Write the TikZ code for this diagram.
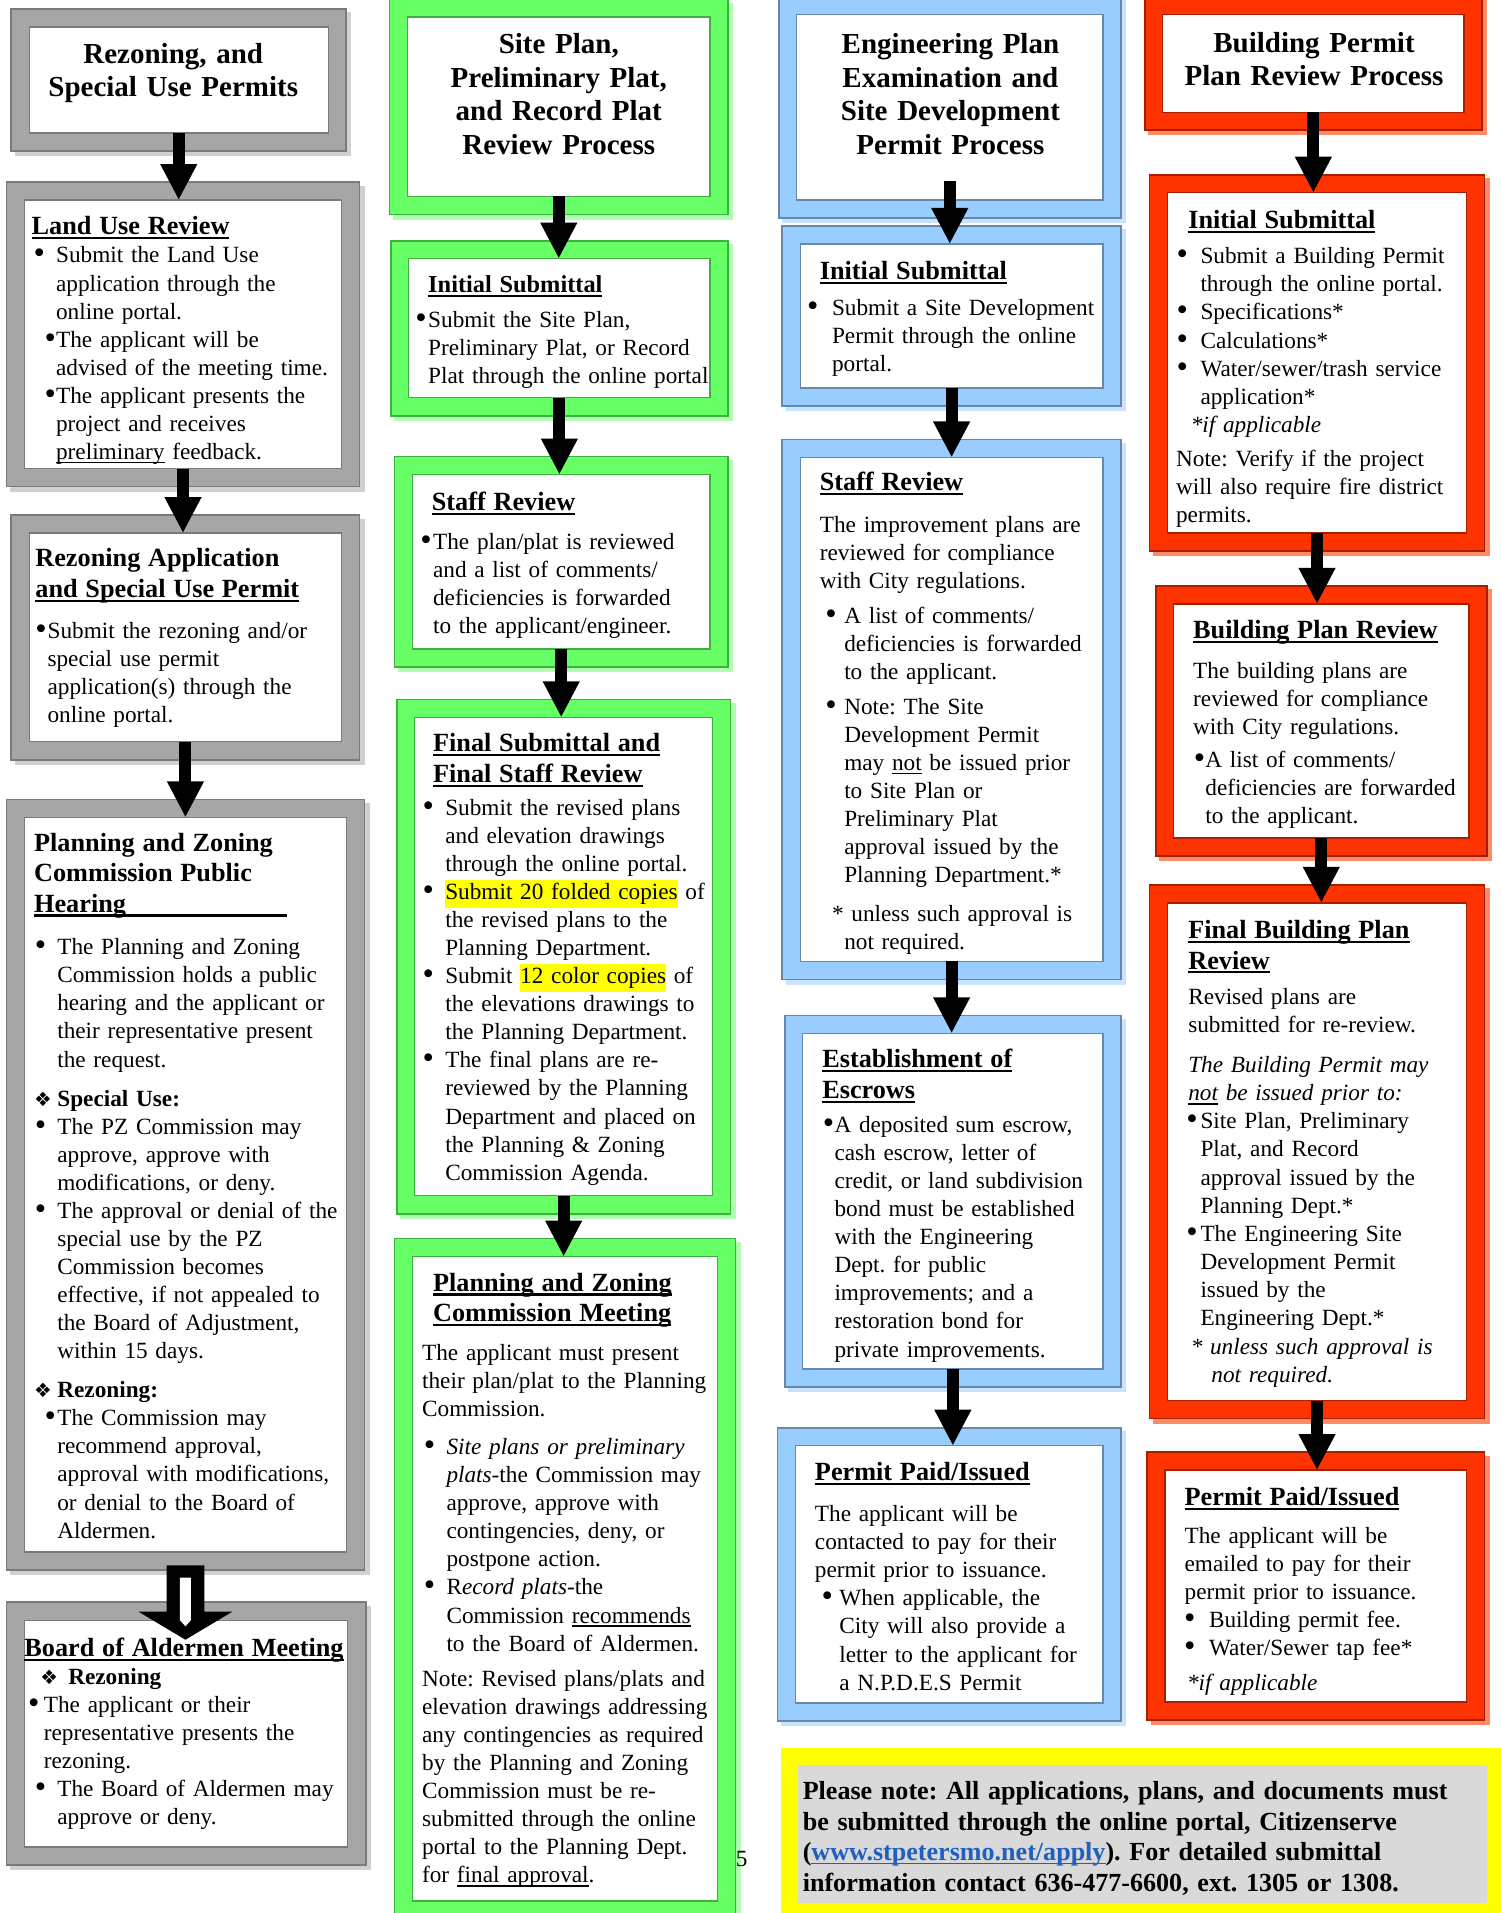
\documentclass[tikz,border=0pt]{standalone}
\usepackage{fontspec}
\usepackage{graphicx}
\setmainfont{Liberation Serif}
\newfontfamily\dingf{DejaVu Sans}
\usetikzlibrary{arrows.meta,fit}

\definecolor{framegray}{HTML}{A6A6A6}
\definecolor{edgegray}{HTML}{7A7A7A}
\definecolor{shadegray}{HTML}{D0D0D0}
\definecolor{framegreen}{HTML}{66FF66}
\definecolor{edgegreen}{HTML}{3FAF3F}
\definecolor{shadegreen}{HTML}{B0FFB0}
\definecolor{frameblue}{HTML}{99CCFF}
\definecolor{edgeblue}{HTML}{6688AA}
\definecolor{shadeblue}{HTML}{C8E2FF}
\definecolor{framered}{HTML}{FF3300}
\definecolor{edgered}{HTML}{A52000}
\definecolor{shadered}{HTML}{FF8A66}
\definecolor{noteyellow}{HTML}{FFFF00}
\definecolor{notegray}{HTML}{D9D9D9}
\definecolor{linkblue}{HTML}{1F5FC0}

% one unit of the picture
\newlength\pu
\setlength\pu{0.025cm}

\newcommand\bodyf{\fontsize{13.55}{16.36}\selectfont\frenchspacing}
\newcommand\headf{\fontsize{15.3}{17.8}\selectfont\bfseries}
\newcommand\headsf{\fontsize{14.2}{16.4}\selectfont\bfseries}
\newcommand\titlef{\fontsize{16.9}{19.56}\selectfont\bfseries}
\newcommand\notef{\fontsize{15.2}{17.8}\selectfont\bfseries\frenchspacing}

% underlines, highlight, bullet
\newcommand\undh[1]{\setbox0\hbox{#1}\rlap{\rule[-2.6pt]{\wd0}{1.2pt}}\box0\relax}
\newcommand\undt[1]{\setbox0\hbox{#1}\rlap{\rule[-2.2pt]{\wd0}{0.8pt}}\box0\relax}
\newcommand\hilite[1]{{\fboxsep=0pt\colorbox{noteyellow}{\strut#1}}}
\newcommand\bigdot{\raisebox{-0.6pt}{\scalebox{1.4}{\textbullet}}}

% paragraphs inside the boxes
\newcommand\boxhead[2][0]{{\headf\hangindent=#1\pu\hangafter=0\noindent\strut#2\par}}
\newcommand\boxheads[1]{{\headsf\noindent\strut#1\par}}
\newcommand\bitem[3]{\hangindent=#1\pu\hangafter=1\noindent\rlap{\hspace*{#2\pu}\bigdot}\hspace*{#1\pu}#3\par}
\newcommand\plainpara[2]{\hangindent=#1\pu\hangafter=0\noindent#2\par}
\newcommand\hangpara[3]{\hangindent=#1\pu\hangafter=1\noindent\hspace*{#2\pu}#3\par}
\newcommand\ditem[3]{\noindent\hspace*{#1\pu}\makebox[#2\pu][l]{{\dingf\fontsize{11.5}{12}\selectfont ❖}}#3\par}

\tikzset{
  panel/.style n args={3}{inner sep=0pt, outer sep=0pt, fill=white, draw=#2, line width=0.8pt,
    preaction={draw=#3, line width=22pt, transform canvas={shift={(2.5pt,-2.5pt)}}},
    preaction={draw=#2, line width=22pt},
    preaction={draw=#1, line width=20pt}},
  graybox/.style={panel={framegray}{edgegray}{shadegray}},
  greenbox/.style={panel={framegreen}{edgegreen}{shadegreen}},
  bluebox/.style={panel={frameblue}{edgeblue}{shadeblue}},
  redbox/.style={panel={framered}{edgered}{shadered}},
  notebox/.style={inner sep=0pt, outer sep=0pt, fill=notegray,
    preaction={draw=noteyellow, line width=20pt}},
  flow/.style={line width=7pt, -{Triangle[width=20pt,length=21pt]}},
  txt/.style={anchor=north west, inner sep=0pt, outer sep=0pt, text width=9.5cm, align=left, font=\bodyf},
  ttl/.style={anchor=north, inner sep=0pt, outer sep=0pt, text width=7cm, align=center, font=\titlef}
}

\begin{document}
\begin{tikzpicture}[x=0.025cm, y=-0.025cm]
\useasboundingbox (0,0) rectangle (1230,1568);
\fill[white] (0,0) rectangle (1230,1568);

% rezoning column
\node[graybox, fit={(24,22) (269,109)}] (rz1) {};
\node[graybox, fit={(20,164) (280,384)}] (lu) {};
\node[graybox, fit={(24,437) (280,608)}] (rza) {};
\node[graybox, fit={(20,670) (284,1272)}] (pzh) {};
\node[graybox, fit={(20,1328) (285,1514)}] (bam) {};

% site plan column
\node[greenbox, fit={(334,14) (582,161)}] (sp) {};
\node[greenbox, fit={(335,212) (582,326)}] (is2) {};
\node[greenbox, fit={(338,389) (582,532)}] (sr2) {};
\node[greenbox, fit={(340,588) (584,980)}] (fs) {};
\node[greenbox, fit={(338,1030) (588,1558)}] (pzm) {};

% engineering column
\node[bluebox, fit={(653,12) (904,164)}] (ep) {};
\node[bluebox, fit={(656,200) (904,318)}] (is3) {};
\node[bluebox, fit={(656,375) (904,788)}] (sr3) {};
\node[bluebox, fit={(658,847) (904,1122)}] (esc) {};
\node[bluebox, fit={(652,1185) (904,1396)}] (pp3) {};

% building column
\node[redbox, fit={(953,12) (1200,92)}] (bp) {};
\node[redbox, fit={(957,158) (1202,437)}] (is4) {};
\node[redbox, fit={(962,495) (1204,687)}] (bpr) {};
\node[redbox, fit={(957,740) (1202,1148)}] (fbp) {};
\node[redbox, fit={(955,1205) (1202,1395)}] (pp4) {};

\node[notebox, fit={(654,1447) (1219,1560)}] (note) {};

% titles
\node[ttl] (rz1t) at (142,32.6) {\strut Rezoning, and\\Special Use Permits};
\node[ttl] (spt) at (458,24.6) {\strut Site Plan,\\Preliminary Plat,\\and Record Plat\\Review Process};
\node[ttl] (ept) at (779,24.6) {\strut Engineering Plan\\Examination and\\Site Development\\Permit Process};
\node[ttl] (bpt) at (1077,23.6) {\strut Building Permit\\Plan Review Process};

% rezoning texts
\node[txt] (lut) at (26,175) {%
\boxhead{\undh{Land Use Review}}
\bitem{20}{1.5}{Submit the Land Use\newline application through the\newline online portal.}
\bitem{20}{10.5}{The applicant will be\newline advised of the meeting time.}
\bitem{20}{10.5}{The applicant presents the\newline project and receives\newline \undt{preliminary} feedback.}};
\node[txt] (rzat) at (29,447) {%
\boxhead{Rezoning Application\newline\undh{and Special Use Permit}}
\vspace{11\pu}
\bitem{10}{0}{Submit the rezoning and/or\newline special use permit\newline application(s) through the\newline online portal.}};
\node[txt] (pzht) at (28,680) {%
\boxhead{Planning and Zoning\newline Commission Public\newline\undh{\makebox[207\pu][l]{Hearing}}}
\vspace{12\pu}
\bitem{19}{0.5}{The Planning and Zoning\newline Commission holds a public\newline hearing and the applicant or\newline their representative present\newline the request.}
\vspace{9\pu}
\ditem{0}{19}{\textbf{Special Use:}}
\bitem{19}{0.5}{The PZ Commission may\newline approve, approve with\newline modifications, or deny.}
\bitem{19}{0.5}{The approval or denial of the\newline special use by the PZ\newline Commission becomes\newline effective, if not appealed to\newline the Board of Adjustment,\newline within 15 days.}
\vspace{9\pu}
\ditem{0}{19}{\textbf{Rezoning:}}
\bitem{19}{8.5}{The Commission may\newline recommend approval,\newline approval with modifications,\newline or denial to the Board of\newline Aldermen.}};
\node[txt] (bamt) at (20,1340) {%
\boxhead{\undh{Board of Aldermen Meeting}}
\ditem{13}{23}{\textbf{Rezoning}}
\bitem{16}{3}{The applicant or their\newline representative presents the\newline rezoning.}
\bitem{27}{8.5}{The Board of Aldermen may\newline approve or deny.}};

% site plan texts
\node[txt] (is2t) at (351,223.5) {%
\boxheads{\undh{Initial Submittal}}
\vspace{6\pu}
\bitem{0}{-10.5}{Submit the Site Plan,\newline Preliminary Plat, or Record\newline Plat through the online portal}};
\node[txt] (sr2t) at (354,400.7) {%
\boxhead{\undh{Staff Review}}
\vspace{9\pu}
\bitem{1}{-9.5}{The plan/plat is reviewed\newline and a list of comments/\newline deficiencies is forwarded\newline to the applicant/engineer.}};
\node[txt] (fst) at (355,598.7) {%
\boxhead{\undh{Final Submittal and}\newline\undh{Final Staff Review}}
\vspace{4\pu}
\bitem{10}{-8.5}{Submit the revised plans\newline and elevation drawings\newline through the online portal.}
\bitem{10}{-8.5}{\hilite{Submit 20 folded copies} of\newline the revised plans to the\newline Planning Department.}
\bitem{10}{-8.5}{Submit \hilite{12 color copies} of\newline the elevations drawings to\newline the Planning Department.}
\bitem{10}{-8.5}{The final plans are re-\newline reviewed by the Planning\newline Department and placed on\newline the Planning \& Zoning\newline Commission Agenda.}};
\node[txt] (pzmt) at (346,1040.7) {%
\boxhead[9]{\undh{Planning and Zoning}\newline\undh{Commission Meeting}}
\vspace{9\pu}
\plainpara{0}{The applicant must present\newline their plan/plat to the Planning\newline Commission.}
\vspace{8\pu}
\bitem{20}{1.5}{\textit{Site plans or preliminary\newline plats}-the Commission may\newline approve, approve with\newline contingencies, deny, or\newline postpone action.}
\bitem{20}{1.5}{R\textit{ecord plats}-the\newline Commission \undt{recommends}\newline to the Board of Aldermen.}
\vspace{6\pu}
\plainpara{0}{Note: Revised plans/plats and\newline elevation drawings addressing\newline any contingencies as required\newline by the Planning and Zoning\newline Commission must be re-\newline submitted through the online\newline portal to the Planning Dept.\newline for \undt{final approval}.}};

% engineering texts
\node[txt] (is3t) at (672,211.7) {%
\boxhead{\undh{Initial Submittal}}
\vspace{6\pu}
\bitem{10}{-10.5}{Submit a Site Development\newline Permit through the online\newline portal.}};
\node[txt] (sr3t) at (672,384.7) {%
\boxhead{\undh{Staff Review}}
\vspace{11\pu}
\plainpara{0}{The improvement plans are\newline reviewed for compliance\newline with City regulations.}
\vspace{6\pu}
\bitem{20}{4.5}{A list of comments/\newline deficiencies is forwarded\newline to the applicant.}
\vspace{5\pu}
\bitem{20}{4.5}{Note: The Site\newline Development Permit\newline may \undt{not} be issued prior\newline to Site Plan or\newline Preliminary Plat\newline approval issued by the\newline Planning Department.*}
\vspace{9\pu}
\hangpara{20}{10}{* unless such approval is\newline not required.}};
\node[txt] (esct) at (674,857.7) {%
\boxhead{\undh{Establishment of}\newline\undh{Escrows}}
\vspace{5\pu}
\bitem{10}{0.5}{A deposited sum escrow,\newline cash escrow, letter of\newline credit, or land subdivision\newline bond must be established\newline with the Engineering\newline Dept. for public\newline improvements; and a\newline restoration bond for\newline private improvements.}};
\node[txt] (pp3t) at (668,1195.7) {%
\boxhead{\undh{Permit Paid/Issued}}
\vspace{11\pu}
\plainpara{0}{The applicant will be\newline contacted to pay for their\newline permit prior to issuance.}
\bitem{20}{5.5}{When applicable, the\newline City will also provide a\newline letter to the applicant for\newline a N.P.D.E.S Permit}};

% building texts
\node[txt] (is4t) at (964,169.7) {%
\boxhead[10]{\undh{Initial Submittal}}
\vspace{6\pu}
\bitem{20}{0.5}{Submit a Building Permit\newline through the online portal.}
\bitem{20}{0.5}{Specifications*}
\bitem{20}{0.5}{Calculations*}
\bitem{20}{0.5}{Water/sewer/trash service\newline application*}
\plainpara{12}{\textit{*if applicable}}
\vspace{5\pu}
\plainpara{0}{Note: Verify if the project\newline will also require fire district\newline permits.}};
\node[txt] (bprt) at (978,505.7) {%
\boxhead{\undh{Building Plan Review}}
\vspace{10\pu}
\plainpara{0}{The building plans are\newline reviewed for compliance\newline with City regulations.}
\vspace{4\pu}
\bitem{10}{0.5}{A list of comments/\newline deficiencies are forwarded\newline to the applicant.}};
\node[txt] (fbpt) at (974,751.7) {%
\boxhead{\undh{Final Building Plan}\newline\undh{Review}}
\vspace{6\pu}
\plainpara{0}{Revised plans are\newline submitted for re-review.}
\vspace{10\pu}
\plainpara{0}{\textit{The Building Permit may\newline\undt{not} be issued prior to:}}
\bitem{10}{-1.5}{Site Plan, Preliminary\newline Plat, and Record\newline approval issued by the\newline Planning Dept.*}
\bitem{10}{-1.5}{The Engineering Site\newline Development Permit\newline issued by the\newline Engineering Dept.*}
\vspace{1\pu}
\hangpara{19}{2}{\textit{* unless such approval is\newline not required.}}};
\node[txt] (pp4t) at (971,1216.7) {%
\boxhead{\undh{Permit Paid/Issued}}
\vspace{8\pu}
\plainpara{0}{The applicant will be\newline emailed to pay for their\newline permit prior to issuance.}
\bitem{20}{-0.5}{Building permit fee.}
\bitem{20}{-0.5}{Water/Sewer tap fee*}
\vspace{5\pu}
\plainpara{2}{\textit{*if applicable}}};

% note and page number
\node[txt, font=\notef, text width=14.5cm] (notet) at (658,1457.5) {\noindent\strut Please note: All applications, plans, and documents must\newline be submitted through the online portal, Citizenserve\newline (\textcolor{linkblue}{\undt{www.stpetersmo.net/apply}}). For detailed submittal\newline information contact 636-477-6600, ext. 1305 or 1308.};
\node[font=\bodyf, inner sep=0pt] (pgnum) at (608,1524) {5};

% arrows
\draw[flow] (rz1.south) -- (rz1.south |- lu.north);
\draw[flow] (lu.south) -- (lu.south |- rza.north);
\draw[flow] (rza.south) -- (rza.south |- pzh.north);
\draw[flow] (sp.south) -- (sp.south |- is2.north);
\draw[flow] (is2.south) -- (is2.south |- sr2.north);
\draw[flow] (sr2.south) -- (sr2.south |- fs.north);
\draw[flow] (fs.south) -- (fs.south |- pzm.north);
\draw[flow] ([yshift=11pt]ep.south) -- (ep.south |- is3.north);
\draw[flow] (is3.south) -- (is3.south |- sr3.north);
\draw[flow] (sr3.south) -- (sr3.south |- esc.north);
\draw[flow] (esc.south) -- (esc.south |- pp3.north);
\draw[flow] (bp.south) -- (bp.south |- is4.north);
\draw[flow] (is4.south) -- (is4.south |- bpr.north);
\draw[flow] (bpr.south) -- (bpr.south |- fbp.north);
\draw[flow] (fbp.south) -- (fbp.south |- pp4.north);

% hollow arrow into the board meeting
\begin{scope}[shift={(pzh.south)}]
\fill[black] (-15.5,11) -- (15.5,11) -- (15.5,49) -- (38.5,49) -- (0,72) -- (-38.5,49) -- (-15.5,49) -- cycle;
\fill[white] (-4.5,21) -- (4.5,21) -- (4.5,56) -- (0,61) -- (-4.5,56) -- cycle;
\end{scope}
\end{tikzpicture}
\end{document}
